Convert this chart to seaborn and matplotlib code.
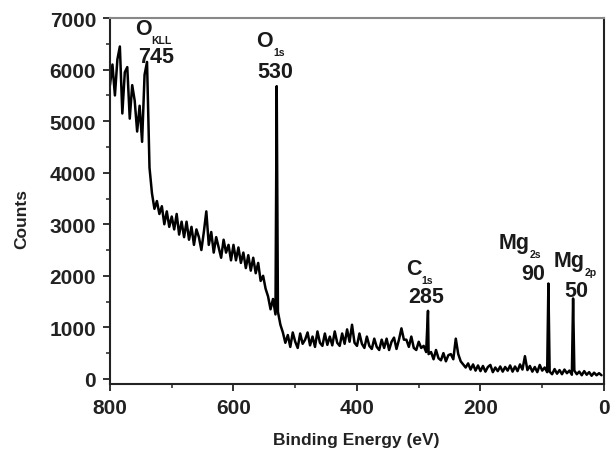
import numpy as np
import pandas as pd
import matplotlib
matplotlib.use("Agg")
import matplotlib.pyplot as plt
from matplotlib.ticker import MultipleLocator
import seaborn as sns

# XPS survey spectrum, sampled every 4 eV from 800 eV down to 4 eV
energy_grid = np.arange(800, 0, -4)
counts_grid = [
    5700, 6100, 5500, 6200, 6450, 5150, 5950, 6050, 5050, 5700,
    5400, 4800, 5300, 4600, 5900, 6150, 4100, 3600, 3300, 3450,
    3200, 3350, 3000, 3250, 2950, 3150, 2900, 3200, 2800, 3050,
    2750, 3050, 2700, 2950, 2600, 2900, 2750, 2500, 2850, 3250,
    2600, 2850, 2450, 2750, 2550, 2350, 2700, 2450, 2600, 2300,
    2600, 2300, 2550, 2250, 2450, 2150, 2400, 2100, 2350, 2050,
    2250, 1900, 2000, 1750, 1600, 1350, 1550, 1250, 1300, 1050,
    900, 700, 850, 620, 900, 720, 600, 880, 680, 760,
    900, 650, 820, 620, 920, 700, 640, 880, 660, 820,
    650, 920, 700, 640, 880, 680, 960, 720, 1050, 700,
    640, 880, 680, 600, 820, 640, 580, 780, 620, 560,
    760, 600, 780, 560, 720, 800, 580, 760, 980, 760,
    760, 620, 820, 600, 560, 720, 600, 640, 520, 480,
    520, 380, 560, 400, 360, 500, 340, 460, 480, 380,
    780, 480, 340, 280, 220, 300, 180, 280, 160, 260,
    150, 250, 140, 230, 270, 130, 220, 150, 240, 140,
    230, 160, 260, 140, 240, 150, 280, 180, 440, 170,
    250, 140, 230, 130, 270, 160, 220, 130, 140, 90,
    190, 100, 170, 90, 180, 110, 160, 80, 160, 90,
    140, 70, 150, 80, 130, 60, 120, 70, 110, 70,
]

# Sharp photoelectron lines
peak_energy = [530, 285, 90, 50]
peak_counts = [5680, 1320, 1850, 1560]

# Peak annotations: element, orbital subscript, value text
label_main = ["O", "O", "C", "Mg", "Mg"]
label_sub = ["KLL", "1s", "1s", "2s", "2p"]
label_value = ["745", "530", "285", "90", "50"]
label_anchor_x = [733, 536, 296, 120, 32]
label_value_x = [725, 533, 288, 114, 45]
label_main_y = [6790, 6560, 2135, 2640, 2290]
label_value_y = [6250, 5955, 1590, 2035, 1705]

df = pd.DataFrame({
    "energy": np.concatenate([energy_grid, peak_energy]),
    "counts": np.concatenate([counts_grid, peak_counts]),
}).sort_values("energy")

sns.set_style("ticks")
plt.rcParams["font.family"] = ["Liberation Sans", "DejaVu Sans"]
plt.rcParams["font.weight"] = "bold"

fig = plt.figure(figsize=(6.11, 4.56), dpi=100)
ax = fig.add_axes([0.180, 0.1557, 0.8085, 0.8023])

sns.lineplot(data=df, x="energy", y="counts", ax=ax, color="black",
             linewidth=1.8, estimator=None, sort=True)

ax.set_xlim(800, 0)
ax.set_ylim(-100, 7000)
ax.xaxis.set_major_locator(MultipleLocator(200))
ax.xaxis.set_minor_locator(MultipleLocator(100))
ax.yaxis.set_major_locator(MultipleLocator(1000))
ax.yaxis.set_minor_locator(MultipleLocator(500))
ax.tick_params(which="major", direction="out", length=5, width=1.3,
               labelsize=15, pad=5, color="#222222")
ax.tick_params(which="minor", direction="out", length=3, width=1.1,
               color="#222222")
for lbl in ax.get_xticklabels() + ax.get_yticklabels():
    lbl.set_fontweight("bold")
    lbl.set_color("#222222")

for side in ["left", "bottom", "right"]:
    ax.spines[side].set_linewidth(1.5)
    ax.spines[side].set_color("#222222")
ax.spines["top"].set_linewidth(1.5)
ax.spines["top"].set_color("#888888")

ax.set_xlabel("")
ax.set_ylabel("")
fig.text(0.583, 0.035, "Binding Energy (eV)", ha="center", va="center",
         fontsize=12.5, fontweight="bold", color="#222222")
fig.text(0.035, 0.52, "Counts", ha="center", va="center", rotation=90,
         fontsize=12.5, fontweight="bold", color="#222222")

sub_drop = 215
for main, sub, val, ax_x, vx, my, vy in zip(label_main, label_sub, label_value,
                                             label_anchor_x, label_value_x,
                                             label_main_y, label_value_y):
    ax.text(ax_x, my, main, ha="right", va="center", fontsize=15.5,
            fontweight="bold", color="#1a1a1a")
    ax.text(ax_x, my - sub_drop, sub, ha="left", va="center", fontsize=7.5,
            fontweight="bold", color="#1a1a1a")
    ax.text(vx, vy, val, ha="center", va="center", fontsize=15.5,
            fontweight="bold", color="#1a1a1a")

fig.savefig("out.png", dpi=100, facecolor="white")
